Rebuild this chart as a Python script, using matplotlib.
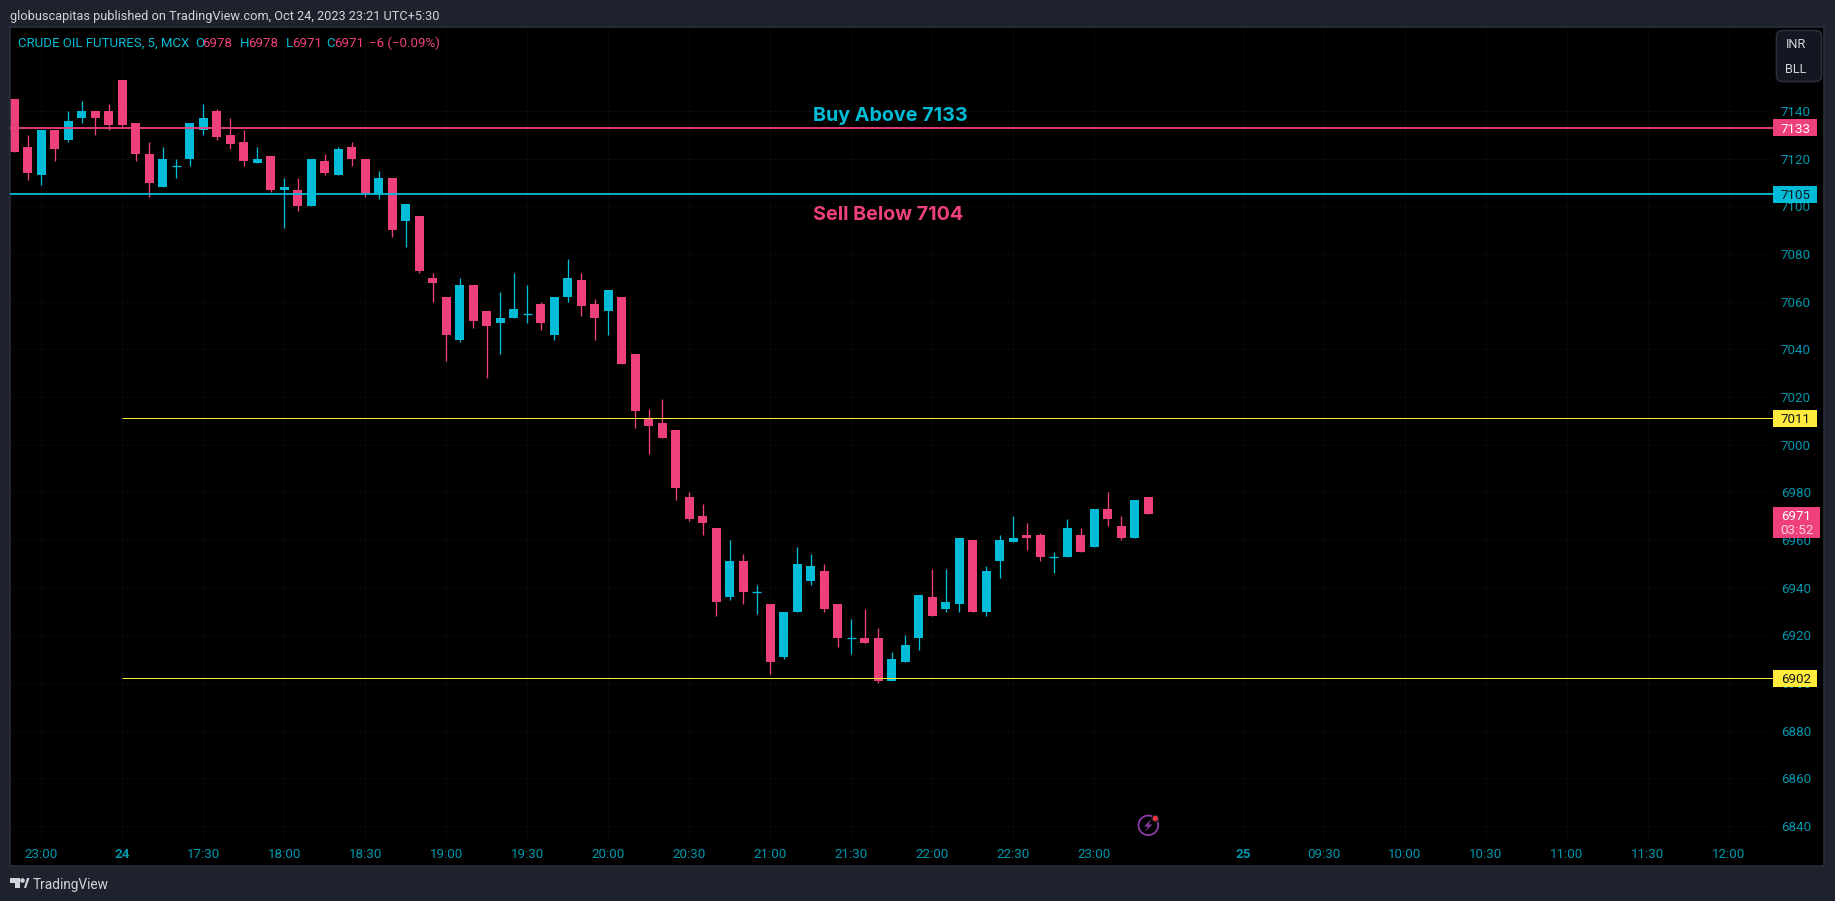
import matplotlib
matplotlib.use("Agg")
import matplotlib.pyplot as plt
from matplotlib.patches import Rectangle, FancyBboxPatch, Circle, Polygon

opens = [7145,7125,7113,7132,7128,7137,7140,7140,7153,7135,
         7122,7108,7117,7120,7132,7140,7130,7127,7118,7121,
         7107,7107,7100,7119,7113,7125,7120,7105,7112,7094,
         7096,7070,7062,7044,7067,7056,7051,7053,7055,7059,
         7046,7062,7069,7059,7056,7062,7038,7011,7009,7006,
         6978,6970,6965,6936,6951,6938,6933,6911,6930,6943,
         6947,6933,6919,6919,6919,6901,6909,6919,6936,6931,
         6933,6960,6930,6951,6959,6962,6962,6953,6953,6962,
         6957,6973,6966,6961,6978]
highs = [7145,7130,7132,7132,7140,7144,7140,7143,7153,7135,
         7127,7125,7120,7135,7143,7141,7137,7132,7125,7121,
         7112,7112,7120,7122,7125,7127,7120,7115,7112,7101,
         7096,7072,7062,7070,7067,7056,7064,7072,7067,7060,
         7062,7078,7072,7061,7065,7062,7038,7015,7019,7006,
         6980,6975,6965,6960,6954,6941,6933,6930,6957,6954,
         6950,6933,6927,6931,6923,6913,6920,6937,6948,6948,
         6961,6960,6949,6962,6970,6967,6963,6955,6969,6965,
         6973,6980,6970,6977,6978]
lows = [7123,7111,7109,7119,7127,7135,7130,7132,7133,7119,
        7104,7108,7112,7117,7130,7128,7124,7117,7118,7106,
        7091,7098,7100,7113,7113,7117,7104,7103,7087,7083,
        7072,7060,7035,7043,7049,7028,7038,7053,7051,7048,
        7044,7060,7054,7044,7046,7034,7007,6996,7003,6977,
        6968,6962,6928,6935,6933,6929,6904,6910,6930,6941,
        6930,6915,6912,6917,6900,6901,6909,6914,6928,6930,
        6930,6930,6928,6944,6959,6956,6951,6946,6953,6955,
        6957,6966,6960,6961,6971]
closes = [7123,7114,7132,7124,7136,7140,7137,7134,7134,7122,
          7110,7120,7117,7135,7137,7129,7126,7119,7120,7107,
          7108,7100,7120,7114,7124,7120,7105,7112,7090,7101,
          7073,7068,7046,7067,7052,7050,7053,7057,7055,7051,
          7062,7070,7058,7053,7065,7034,7014,7008,7003,6982,
          6969,6967,6934,6951,6938,6938,6909,6930,6950,6949,
          6931,6919,6919,6917,6901,6910,6916,6937,6928,6934,
          6961,6930,6947,6960,6961,6961,6953,6953,6965,6955,
          6973,6969,6961,6977,6971]

price_ticks = list(range(6840, 7141, 20))
time_positions = [2, 8, 14, 20, 26, 32, 38, 44, 50, 56, 62, 68, 74, 80,
                  91, 97, 103, 109, 115, 121, 127]
time_labels = ["23:00", "24", "17:30", "18:00", "18:30", "19:00", "19:30",
               "20:00", "20:30", "21:00", "21:30", "22:00", "22:30", "23:00",
               "25", "09:30", "10:00", "10:30", "11:00", "11:30", "12:00"]
buy_level = 7133
sell_level = 7105
support_levels = [7011, 6902]
last_price = 6971

W, H = 1835, 901
BG = "#1e222d"
BORDER = "#2a2e39"
PINK = "#ef407e"
BLUE = "#00bcd6"
YELLOW = "#ffeb3b"
AXIS_TXT = "#0097ae"
LIGHT = "#d1d4dc"
plt.rcParams["font.family"] = ["Roboto", "DejaVu Sans"]

fig = plt.figure(figsize=(W / 100, H / 100), dpi=100, facecolor=BG)
L, R, T, B = 10, 1824, 27, 866
ax = fig.add_axes([L / W, 1 - B / H, (R - L) / W, (B - T) / H], facecolor="black")

X0, DX = 14.3, 13.5
Y0, DY = 127.7, 2.3835
def xd(px):
    return (px - X0) / DX
def yd(py):
    return 7133 - (py - Y0) / DY

ax.set_xlim(xd(L), xd(R))
ax.set_ylim(yd(B), yd(T))
PANE_R = xd(1773)
PANE_B = yd(840)

for s in ax.spines.values():
    s.set_color(BORDER)
    s.set_linewidth(1.2)

# grid
GRID = "#080808"
ax.hlines(price_ticks, xd(L), PANE_R, color=GRID, lw=0.8, zorder=0.5)
ax.vlines(time_positions, PANE_B, yd(T), color=GRID, lw=0.8, zorder=0.5)

# candles
wick_w = 0.95
body = 9 / DX
for i, (o, h, l, c) in enumerate(zip(opens, highs, lows, closes)):
    col = BLUE if c >= o else PINK
    ax.vlines(i, l, h, color=col, lw=wick_w, zorder=2)
    if o == c:
        ax.hlines(o, i - body / 2, i + body / 2, color=col, lw=wick_w, zorder=2)
    else:
        ax.bar(i, abs(c - o), bottom=min(o, c), width=body, color=col, lw=0, zorder=2.2)

# horizontal levels
ax.hlines(buy_level, xd(L), PANE_R, color=PINK, lw=1.3, zorder=3)
ax.hlines(sell_level, xd(L), PANE_R, color=BLUE, lw=1.3, zorder=3)
ax.hlines(support_levels, 8, PANE_R, color=YELLOW, lw=0.72, zorder=3)

# annotations
ax.text(xd(813), yd(116.5), "Buy Above 7133", color=BLUE, fontsize=14.2, fontweight="bold",
        ha="left", va="center", family=["Inter", "DejaVu Sans"], zorder=4)
ax.text(xd(813), yd(214.5), "Sell Below 7104", color=PINK, fontsize=14.2, fontweight="bold",
        ha="left", va="center", family=["Inter", "DejaVu Sans"], zorder=4)

# axes ticks
ax.set_yticks(price_ticks)
ax.set_yticklabels([str(p) for p in price_ticks])
ax.tick_params(axis="y", left=False, right=False, labelleft=False, labelright=True,
               length=0, pad=-31, labelsize=9.6, labelcolor=AXIS_TXT)
ax.set_xticks(time_positions)
ax.set_xticklabels(time_labels)
ax.tick_params(axis="x", bottom=False, length=0, pad=-13, labelsize=9.6, labelcolor=AXIS_TXT)
for t in ax.get_xticklabels():
    if t.get_text() in ("24", "25"):
        t.set_fontweight("bold")

# price labels on the scale
BOX_W = 44 / DX
def price_tag(level, bg, fg):
    h = 17 / DY
    ax.add_patch(Rectangle((PANE_R, level - h / 2), BOX_W, h, facecolor=bg, lw=0,
                           clip_on=False, zorder=6))
    ax.text(xd(1796), level, str(level), color=fg, fontsize=9.6, ha="center",
            va="center_baseline", zorder=7)

price_tag(buy_level, PINK, "white")
price_tag(sell_level, BLUE, "#131722")
for lv in support_levels:
    price_tag(lv, YELLOW, "#131722")

ax.add_patch(Rectangle((PANE_R, yd(538)), 47 / DX, 31 / DY, facecolor=PINK, lw=0, zorder=6))
ax.text(xd(1796), yd(515.5), str(last_price), color="white", fontsize=9.6, ha="center",
        va="center_baseline", zorder=7)
ax.text(xd(1796.5), yd(529.5), "03:52", color="#fbd0df", fontsize=9.6, ha="center",
        va="center_baseline", zorder=7)

# overlay in pixel space for the chrome
ov = fig.add_axes([0, 0, 1, 1], facecolor="none")
ov.set_xlim(0, W)
ov.set_ylim(H, 0)
ov.axis("off")

ov.text(10, 15, "globuscapitas published on TradingView.com, Oct 24, 2023 23:21 UTC+5:30",
        color=LIGHT, fontsize=9.22, va="center_baseline", ha="left")

legend = [(18, "CRUDE OIL FUTURES, 5, MCX", BLUE), (195, "O", BLUE), (202.5, "6978", PINK),
          (240, "H", BLUE), (248, "6978", PINK), (285.5, "L", BLUE), (292, "6971", PINK),
          (326, "C", BLUE), (334.5, "6971", PINK), (369, "\u22126 (\u22120.09%)", PINK)]
for x, s, c in legend:
    ov.text(x, 42, s, color=c, fontsize=9.5, va="center_baseline", ha="left")

ov.add_patch(FancyBboxPatch((1779, 33), 40, 46, boxstyle="round,pad=2.5,rounding_size=6",
                            facecolor="#131722", edgecolor=BORDER, lw=1.2))
ov.text(1796, 43.5, "INR", color=LIGHT, fontsize=9.2, ha="center", va="center_baseline")
ov.text(1796, 68, "BLL", color=LIGHT, fontsize=9.2, ha="center", va="center_baseline")

# logo
ov.add_patch(Polygon([(10, 878), (20, 878), (20, 888), (15, 888), (15, 883), (10, 883)],
                     facecolor=LIGHT, lw=0))
ov.add_patch(Circle((22.5, 880.5), 2.3, facecolor=LIGHT, lw=0))
ov.add_patch(Polygon([(24, 888), (27, 878), (29.5, 878), (26, 888)], facecolor=LIGHT, lw=0))
ov.text(33, 884, "TradingView", color=LIGHT, fontsize=9.8, va="center_baseline", ha="left")

# lightning icon
ov.add_patch(Circle((1148.3, 825.3), 9.8, facecolor="black", edgecolor="#8e3aa6", lw=1.3))
ov.add_patch(Polygon([(1151.5, 819), (1144, 826.5), (1148, 826.5), (1145, 831.5),
                      (1152.5, 824.5), (1148.5, 824.5)], facecolor="#8e3aa6", lw=0))
ov.add_patch(Circle((1155.3, 818.5), 4.0, facecolor="#16181f", lw=0))
ov.add_patch(Circle((1155.3, 818.5), 2.7, facecolor="#f23645", lw=0))

fig.savefig("out.png", dpi=100, facecolor=BG)
